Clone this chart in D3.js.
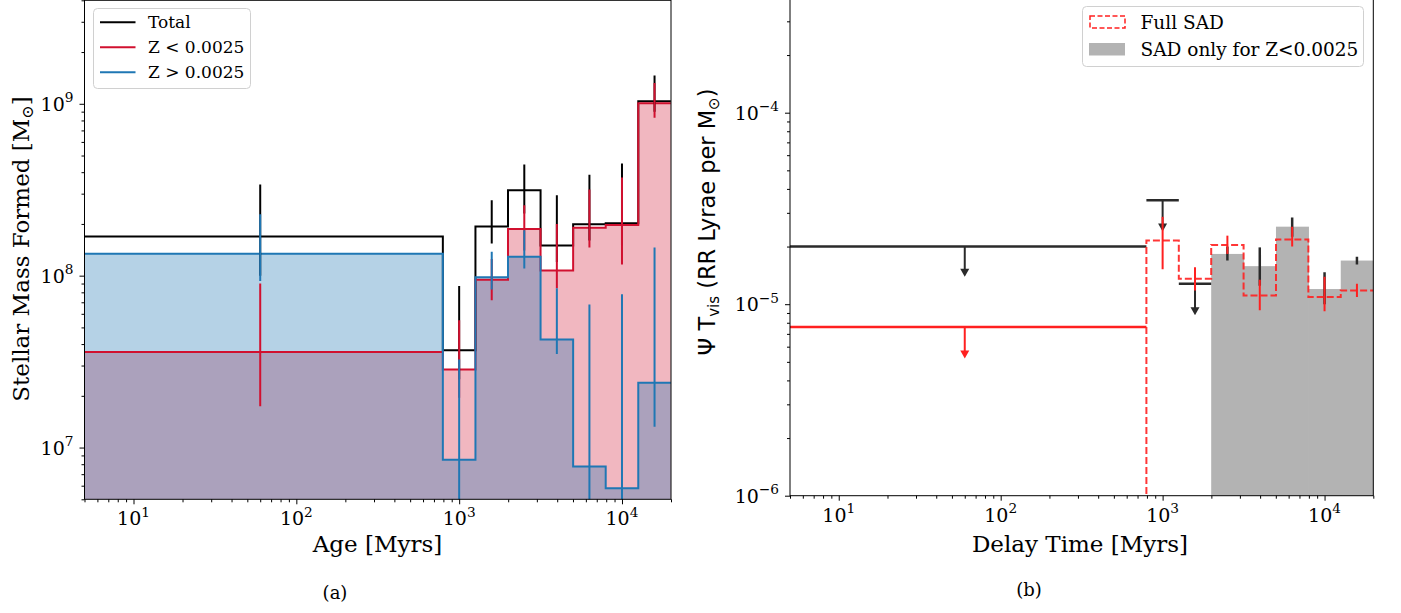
<!DOCTYPE html>
<html><head><meta charset="utf-8">
<script src="https://cdn.jsdelivr.net/npm/d3@7"></script>
<style>body{margin:0;background:#fff} svg{display:block}</style>
</head><body>
<svg id="c" width="1401" height="613"></svg>
<script>
// ---------------- data ----------------
const binEdges   = [4.5, 794, 1259, 1995, 3162, 5012, 7943, 12589, 19953]; // Myr
const binCenters = [60, 1000, 1585, 2512, 3981, 6310, 10000, 15849];

// Panel (a): stellar mass formed per bin
const totalMass   = [1.69e8, 3.68e7, 1.93e8, 3.14e8, 1.50e8, 1.99e8, 2.02e8, 1.035e9];
const totalLo     = [1.0e8, 2.5e7, 1.54e8, 2.3e8, 1.2e8, 1.6e8, 1.5e8, 9.0e8];
const totalHi     = [3.39e8, 8.7e7, 2.75e8, 4.43e8, 2.94e8, 3.87e8, 4.49e8, 1.46e9];
const lowZMass    = [3.6e7, 2.85e7, 9.46e7, 1.87e8, 1.07e8, 1.90e8, 1.97e8, 1.008e9];
const lowZLo      = [1.74e7, 1.95e7, 7.2e7, 1.4e8, 8.45e7, 1.46e8, 1.16e8, 8.3e8];
const lowZHi      = [9.0e7, 5.5e7, 1.25e8, 2.57e8, 2.0e8, 3.17e8, 3.73e8, 1.32e9];
const highZMass   = [1.34e8, 8.5e6, 9.8e7, 1.29e8, 4.25e7, 7.76e6, 5.8e6, 2.38e7];
const highZLo     = [9.3e7, 1e6, 8.3e7, 1.1e8, 3.5e7, 1e6, 1e6, 1.32e7];
const highZHi     = [2.28e8, 3.25e7, 1.38e8, 1.84e8, 8.45e7, 6.8e7, 7.8e7, 1.46e8];

// Panel (b): Psi * T_vis
const fullSAD     = [1e-9, 2.15e-5, 1.36e-5, 2.04e-5, 1.11e-5, 2.18e-5, 1.09e-5, 1.18e-5];
const fullLo      = [null, 1.52e-5, 1.18e-5, 1.83e-5, 9.3e-6, 2.0e-5, 9.2e-6, 1.09e-5];
const fullHi      = [null, 2.86e-5, 1.56e-5, 2.28e-5, 1.34e-5, 2.54e-5, 1.39e-5, 1.28e-5];
const lowZSAD     = [null, null, null, 1.83e-5, 1.58e-5, 2.54e-5, 1.20e-5, 1.69e-5];
const lowZSADLo   = [null, null, null, 1.69e-5, 1.25e-5, 2.25e-5, 1.0e-5, 1.61e-5];
const lowZSADHi   = [null, null, null, 2.0e-5, 1.98e-5, 2.84e-5, 1.47e-5, 1.77e-5];
const totalLimit     = [2.0e-5, 3.49e-5, 1.28e-5];   // upper limits, bins 0..2
const totalLimitTip  = [1.39e-5, 2.4e-5, 8.75e-6];
const lowZLimit      = [7.6e-6];                    // bin 0
const lowZLimitTip   = [5.2e-6];

const xTickVals = [10, 100, 1000, 10000];
const yTicksA = [1e7, 1e8, 1e9];
const yTicksB = [1e-6, 1e-5, 1e-4];
const legendA = ["Total", "Z < 0.0025", "Z > 0.0025"];
const legendB = ["Full SAD", "SAD only for Z<0.0025"];

// ---------------- drawing ----------------
const svg = d3.select("#c");
const SERIF = "DejaVu Serif", SANS = "DejaVu Sans";
const RED = "#d1102f", BLUE = "#1f77b4";

const xA = d3.scaleLog().domain([5, 2e4]).range([84.5, 671]);
const yA = d3.scaleLog().domain([5e6, 4e9]).range([499.3, 0.3]);
const xB = d3.scaleLog().domain([5, 2e4]).range([790, 1373.3]);
const yB = d3.scaleLog().domain([1e-6, 4e-4]).range([495.7, -2.6]);

function minorTicks(domain){
  const out=[]; const [a,b]=domain;
  for(let e=Math.floor(Math.log10(a)); e<=Math.ceil(Math.log10(b)); e++)
    for(let m=2;m<=9;m++){const v=m*Math.pow(10,e); if(v>=a&&v<=b) out.push(v);}
  return out;
}
function powLabel(t, v, size){
  const e = Math.round(Math.log10(v));
  t.append("tspan").text("10");
  t.append("tspan").attr("dy", -0.45*size).attr("font-size", size*0.72).text(e<0 ? "\u2212"+(-e) : String(e));
}
const defs = svg.append("defs");
function clip(id, x, y){
  defs.append("clipPath").attr("id", id).append("rect")
    .attr("x", x.range()[0]).attr("y", Math.min(...y.range()))
    .attr("width", x.range()[1]-x.range()[0]).attr("height", Math.abs(y.range()[0]-y.range()[1]));
}
clip("cA", xA, yA); clip("cB", xB, yB);

function axes(x, y, yTicks, tickSize){
  const g = svg.append("g");
  const yb = y.range()[0];
  g.append("g").attr("transform", `translate(0,${yb})`)
    .call(d3.axisBottom(x).tickValues(xTickVals).tickSize(5).tickFormat(""));
  g.append("g").attr("transform", `translate(0,${yb})`)
    .call(d3.axisBottom(x).tickValues(minorTicks(x.domain())).tickSize(3).tickFormat(""));
  g.append("g").attr("transform", `translate(${x.range()[0]},0)`)
    .call(d3.axisLeft(y).tickValues(yTicks).tickSize(5).tickFormat(""));
  g.append("g").attr("transform", `translate(${x.range()[0]},0)`)
    .call(d3.axisLeft(y).tickValues(minorTicks(y.domain())).tickSize(3).tickFormat(""));
  g.selectAll(".domain").remove();
  g.selectAll(".tick line").attr("stroke", "#000").attr("stroke-width", 1);
  svg.append("rect").attr("x", x.range()[0]).attr("y", Math.min(...y.range()))
    .attr("width", x.range()[1]-x.range()[0]).attr("height", Math.abs(y.range()[0]-y.range()[1]))
    .attr("fill", "none").attr("stroke", "#000").attr("stroke-width", 1);
  xTickVals.forEach(v=>{
    const t = svg.append("text").attr("x", x(v)).attr("y", yb+26).attr("text-anchor","middle")
      .attr("font-family", SERIF).attr("font-size", tickSize);
    powLabel(t, v, tickSize);
  });
  yTicks.forEach(v=>{
    const t = svg.append("text").attr("x", x.range()[0]-11).attr("y", y(v)+7).attr("text-anchor","end")
      .attr("font-family", SERIF).attr("font-size", tickSize);
    powLabel(t, v, tickSize);
  });
}

function stepPts(vals){
  const pts = vals.map((v,i)=>({e: binEdges[i], v}));
  pts.push({e: binEdges[binEdges.length-1], v: vals[vals.length-1]});
  return pts;
}
function stepPath(x, y, vals, floor){
  const pts = [{e: binEdges[0], v: floor}].concat(stepPts(vals));
  return d3.line().curve(d3.curveStepAfter).x(d=>x(d.e)).y(d=>y(d.v))(pts);
}
function stepArea(x, y, vals){
  return d3.area().curve(d3.curveStepAfter).x(d=>x(d.e)).y0(y.range()[0]).y1(d=>y(d.v))(stepPts(vals));
}

// ===== Panel (a) =====
const gA = svg.append("g").attr("clip-path", "url(#cA)");
gA.append("path").attr("d", stepArea(xA, yA, lowZMass)).attr("fill", RED).attr("fill-opacity", 0.3);
gA.append("path").attr("d", stepArea(xA, yA, highZMass)).attr("fill", BLUE).attr("fill-opacity", 0.33);
[[totalMass,"#000"],[lowZMass,RED],[highZMass,BLUE]].forEach(([vals,c])=>{
  gA.append("path").attr("d", stepPath(xA, yA, vals, 1e5)).attr("fill","none")
    .attr("stroke", c).attr("stroke-width", 2);
});
[[totalLo,totalHi,"#000"],[lowZLo,lowZHi,RED],[highZLo,highZHi,BLUE]].forEach(([lo,hi,c])=>{
  gA.selectAll(null).data(binCenters).enter().append("line")
    .attr("x1", d=>xA(d)).attr("x2", d=>xA(d))
    .attr("y1", (d,i)=>yA(lo[i])).attr("y2", (d,i)=>yA(hi[i]))
    .attr("stroke", c).attr("stroke-width", 2);
});
axes(xA, yA, yTicksA, 19);

// legend (a)
const lgA = svg.append("g");
lgA.append("rect").attr("x", 93.5).attr("y", 8.5).attr("width", 157).attr("height", 80).attr("rx", 4)
  .attr("fill", "#fff").attr("fill-opacity", 0.8).attr("stroke", "#d0d0d0").attr("stroke-width", 1);
["#000", RED, BLUE].forEach((c,i)=>{
  const yy = 22.3 + i*25;
  lgA.append("line").attr("x1", 100).attr("x2", 135.5).attr("y1", yy).attr("y2", yy).attr("stroke", c).attr("stroke-width", 2);
  lgA.append("text").attr("x", 148).attr("y", yy+6).attr("font-family", SERIF).attr("font-size", 17).text(legendA[i]);
});

// labels (a)
svg.append("text").attr("x", 377.5).attr("y", 552).attr("text-anchor","middle")
  .attr("font-family", SERIF).attr("font-size", 23).text("Age [Myrs]");
{
  const t = svg.append("text").attr("transform","translate(28.5,249) rotate(-90)").attr("text-anchor","middle")
    .attr("font-family", SERIF).attr("font-size", 23);
  t.append("tspan").text("Stellar Mass Formed [M");
  t.append("tspan").attr("font-size", 16).attr("dy", 4).text("\u2299");
  t.append("tspan").attr("dy", -4).text("]");
}
svg.append("text").attr("x", 335).attr("y", 598.5).attr("text-anchor","middle")
  .attr("font-family", SERIF).attr("font-size", 18).text("(a)");

// ===== Panel (b) =====
const gB = svg.append("g").attr("clip-path", "url(#cB)");
const GRAY = "#b3b3b3", DARK = "#2a2a2a", BRED = "#ff2020";
gB.selectAll(null).data(lowZSAD.map((v,i)=>({v,i})).filter(d=>d.v!==null)).enter().append("rect")
  .attr("x", d=>xB(binEdges[d.i])).attr("width", d=>xB(binEdges[d.i+1])-xB(binEdges[d.i])+0.6)
  .attr("y", d=>yB(d.v)).attr("height", d=>yB.range()[0]-yB(d.v)).attr("fill", GRAY);
function arrow(g, x, yv, ytip, c){
  g.append("line").attr("x1", x).attr("x2", x).attr("y1", yv).attr("y2", ytip-6).attr("stroke", c).attr("stroke-width", 2);
  g.append("path").attr("d", `M${x-4.5},${ytip-8} L${x+4.5},${ytip-8} L${x},${ytip} Z`).attr("fill", c);
}
totalLimit.forEach((v,i)=>{
  gB.append("line").attr("x1", xB(binEdges[i])).attr("x2", xB(binEdges[i+1]))
    .attr("y1", yB(v)).attr("y2", yB(v)).attr("stroke", DARK).attr("stroke-width", 2.5);
  arrow(gB, xB(binCenters[i]), yB(v), yB(totalLimitTip[i]), DARK);
});
lowZLimit.forEach((v,i)=>{
  gB.append("line").attr("x1", xB(binEdges[i])).attr("x2", xB(binEdges[i+1]))
    .attr("y1", yB(v)).attr("y2", yB(v)).attr("stroke", BRED).attr("stroke-width", 2.5);
  arrow(gB, xB(binCenters[i]), yB(v), yB(lowZLimitTip[i]), BRED);
});
binCenters.forEach((c,i)=>{
  if(lowZSADLo[i]===null) return;
  gB.append("line").attr("x1", xB(c)).attr("x2", xB(c)).attr("y1", yB(lowZSADLo[i])).attr("y2", yB(lowZSADHi[i]))
    .attr("stroke", DARK).attr("stroke-width", 2.5);
});
gB.append("path").attr("d", stepPath(xB, yB, fullSAD, 1e-9)).attr("fill","none")
  .attr("stroke", BRED).attr("stroke-width", 2).attr("stroke-dasharray", "7,3").attr("stroke-opacity", 0.9);
binCenters.forEach((c,i)=>{
  if(fullLo[i]===null) return;
  gB.append("line").attr("x1", xB(c)).attr("x2", xB(c)).attr("y1", yB(fullLo[i])).attr("y2", yB(fullHi[i]))
    .attr("stroke", BRED).attr("stroke-width", 2);
});
axes(xB, yB, yTicksB, 19);

// legend (b)
const lgB = svg.append("g");
lgB.append("rect").attr("x", 1082.5).attr("y", 6.5).attr("width", 281).attr("height", 60).attr("rx", 4)
  .attr("fill", "#fff").attr("fill-opacity", 0.8).attr("stroke", "#d0d0d0").attr("stroke-width", 1);
lgB.append("rect").attr("x", 1090).attr("y", 16).attr("width", 35).attr("height", 12)
  .attr("fill", "none").attr("stroke", BRED).attr("stroke-width", 1.5).attr("stroke-dasharray", "5,2.5");
lgB.append("rect").attr("x", 1089).attr("y", 43).attr("width", 36).attr("height", 12.5).attr("fill", GRAY);
legendB.forEach((s,i)=>{
  lgB.append("text").attr("x", 1140.5).attr("y", 28.5 + i*27.5).attr("font-family", SERIF).attr("font-size", 18.5).text(s);
});

svg.append("text").attr("x", 1080).attr("y", 552).attr("text-anchor","middle")
  .attr("font-family", SERIF).attr("font-size", 23).text("Delay Time [Myrs]");
{
  const t = svg.append("text").attr("transform","translate(715,222) rotate(-90)").attr("text-anchor","middle")
    .attr("font-family", SANS).attr("font-size", 22.5);
  t.append("tspan").text("\u03A8 T");
  t.append("tspan").attr("font-size", 15).attr("dy", 4).text("vis");
  t.append("tspan").attr("dy", -4).text(" (RR Lyrae per M");
  t.append("tspan").attr("font-size", 15).attr("dy", 4).text("\u2299");
  t.append("tspan").attr("dy", -4).text(")");
}
svg.append("text").attr("x", 1029).attr("y", 596).attr("text-anchor","middle")
  .attr("font-family", SERIF).attr("font-size", 18).text("(b)");
</script>
</body></html>
